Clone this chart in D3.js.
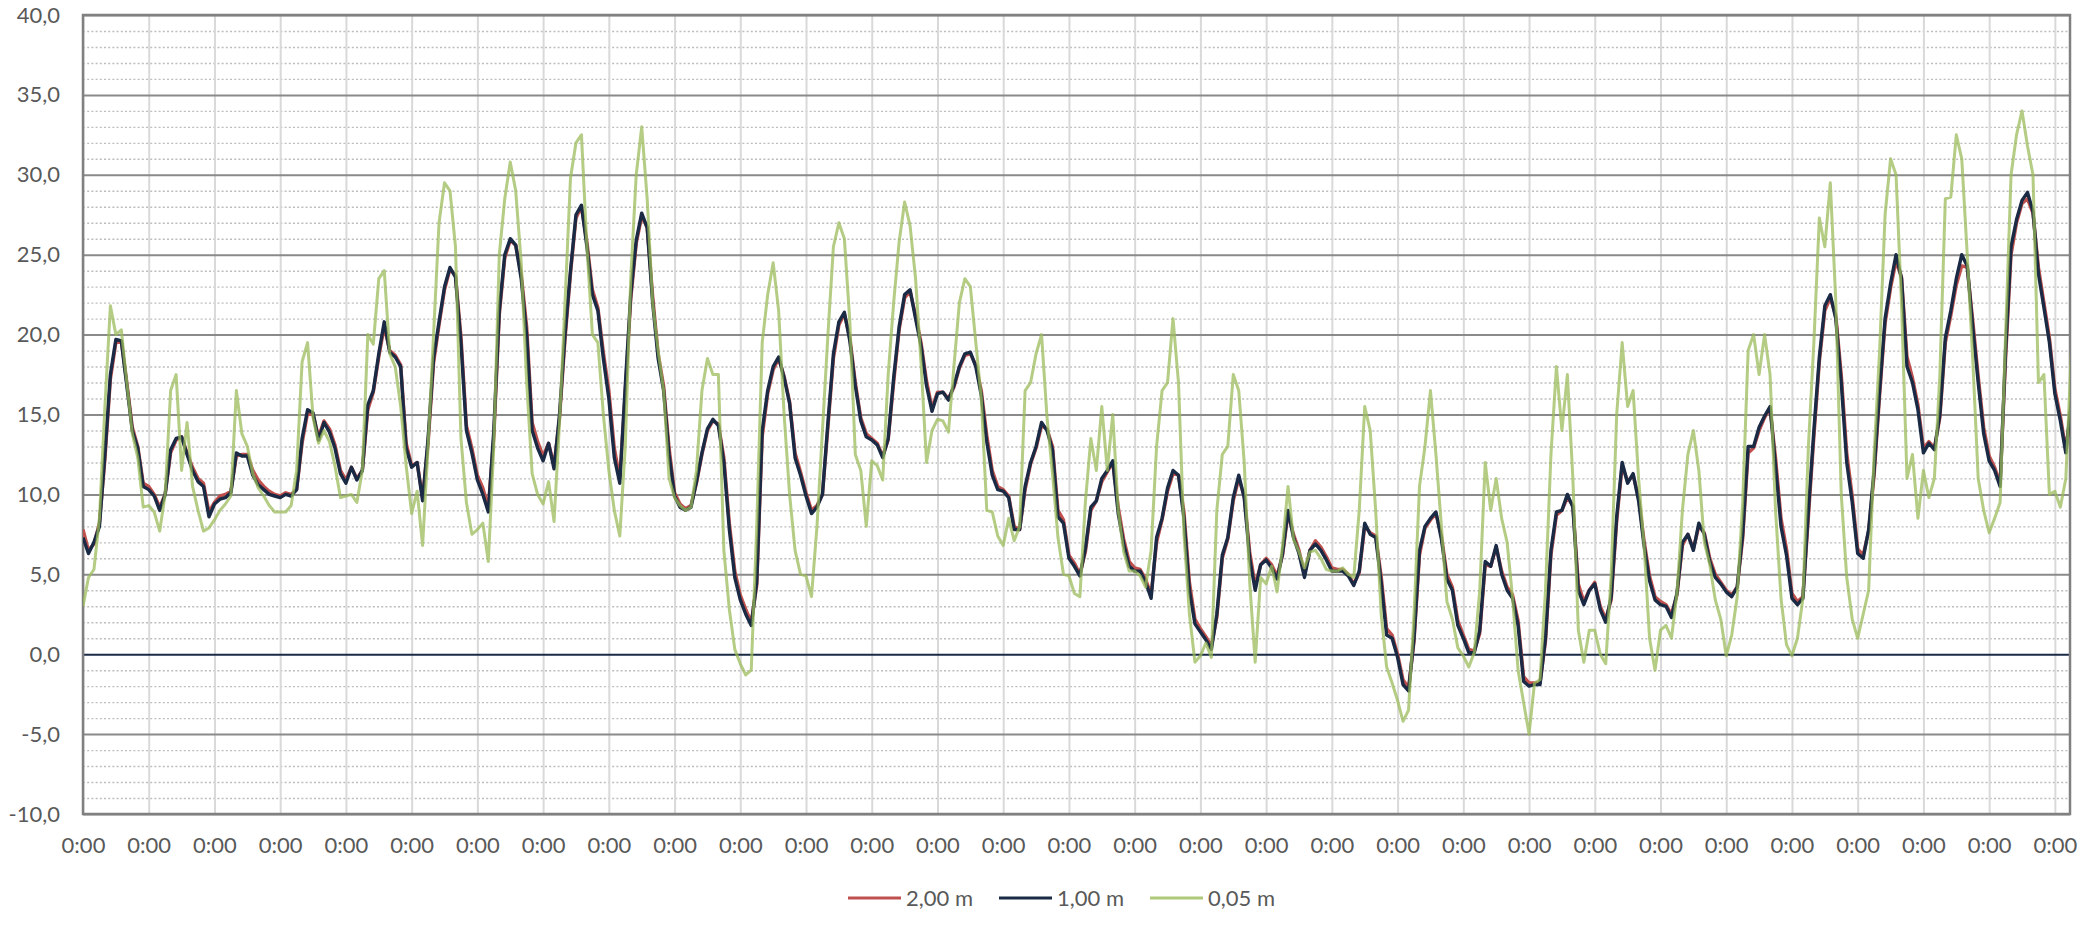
<!DOCTYPE html>
<html>
<head>
<meta charset="utf-8">
<script src="https://cdn.jsdelivr.net/npm/d3@7"></script>
<style>
	body { margin: 0; background: #fff; }
	svg { display: block; font-family: Lato, "Noto Sans", sans-serif; }
</style>
</head>
<body>
<svg width="2100" height="934"></svg>
<script>
// one reading every 2 hours, one row per day
const stepHours = 2
const seriesNames = ["2,00 m", "1,00 m", "0,05 m"]
const seriesColors = ["#c0504d", "#1a2a44", "#9bbb59"]

const temp200 = [
	7.8, 6.5, 6.9, 8.2, 12.2, 17.2, 19.5, 19.6, 17.0, 14.2, 13.0, 10.7,
	10.5, 10.0, 9.2, 10.0, 12.6, 13.4, 13.6, 12.6, 11.7, 11.0, 10.7, 8.9,
	9.5, 9.9, 10.0, 10.2, 12.4, 12.5, 12.5, 11.5, 10.9, 10.5, 10.2, 10.0,
	9.9, 10.1, 10.0, 10.3, 13.2, 15.1, 15.0, 13.6, 14.6, 14.1, 13.1, 11.5,
	10.9, 11.7, 11.0, 11.5, 15.3, 16.4, 18.6, 20.5, 19.0, 18.7, 18.1, 13.2,
	11.8, 12.0, 9.8, 13.2, 18.2, 20.6, 22.8, 24.1, 23.7, 19.9, 14.3, 12.9,
	11.2, 10.4, 9.2, 13.6, 21.2, 24.8, 25.9, 25.6, 23.8, 20.5, 14.5, 13.3,
	12.4, 13.2, 11.8, 14.8, 19.7, 23.8, 27.3, 28.0, 25.8, 22.8, 21.7, 18.9,
	16.5, 12.9, 11.0, 16.4, 22.2, 25.7, 27.4, 26.7, 22.4, 18.8, 16.8, 12.9,
	10.1, 9.4, 9.1, 9.3, 10.7, 12.5, 14.0, 14.6, 14.4, 12.3, 8.2, 5.2,
	3.7, 2.8, 2.0, 4.3, 13.6, 16.3, 17.8, 18.5, 17.4, 15.8, 12.6, 11.4,
	10.1, 9.0, 9.3, 10.0, 14.2, 18.5, 20.6, 21.3, 19.8, 17.0, 14.8, 13.8,
	13.5, 13.2, 12.4, 13.4, 17.0, 20.3, 22.3, 22.7, 21.2, 19.5, 17.1, 15.4,
	16.4, 16.4, 16.0, 16.7, 17.9, 18.7, 18.8, 18.1, 16.5, 13.7, 11.5, 10.5,
	10.3, 9.9, 8.0, 7.8, 10.3, 11.9, 12.9, 14.3, 14.1, 13.0, 9.0, 8.4,
	6.2, 5.7, 5.0, 6.4, 9.0, 9.6, 10.8, 11.4, 12.0, 9.2, 7.2, 5.8,
	5.4, 5.3, 4.7, 3.7, 7.0, 8.4, 10.2, 11.3, 11.2, 8.9, 4.5, 2.2,
	1.6, 1.1, 0.5, 2.3, 6.0, 7.2, 9.6, 11.0, 9.9, 6.4, 4.3, 5.6,
	6.0, 5.6, 4.9, 6.2, 8.8, 7.5, 6.5, 5.0, 6.5, 7.1, 6.7, 6.1,
	5.4, 5.3, 5.3, 5.0, 4.4, 5.1, 8.0, 7.6, 7.4, 4.9, 1.6, 1.2,
	0.0, -1.6, -2.1, 0.8, 6.2, 7.9, 8.4, 8.8, 7.4, 5.0, 4.2, 2.1,
	1.2, 0.3, 0.2, 1.3, 5.6, 5.5, 6.7, 5.2, 4.2, 3.7, 2.1, -1.4,
	-1.8, -1.8, -1.8, 0.8, 6.2, 8.7, 9.0, 9.8, 9.3, 4.4, 3.3, 4.0,
	4.5, 3.0, 2.2, 3.4, 8.3, 11.8, 10.8, 11.2, 9.8, 7.1, 4.9, 3.6,
	3.3, 3.1, 2.5, 3.7, 6.8, 7.5, 6.6, 8.0, 7.6, 6.0, 5.0, 4.5,
	4.0, 3.7, 4.2, 7.2, 12.6, 12.9, 14.0, 14.8, 15.4, 12.3, 8.5, 6.6,
	3.8, 3.3, 3.6, 8.6, 13.6, 18.3, 21.5, 22.3, 21.2, 17.5, 12.6, 9.9,
	6.6, 6.2, 7.7, 11.2, 16.2, 20.7, 22.9, 24.6, 23.6, 18.6, 17.3, 15.6,
	12.9, 13.3, 12.9, 14.8, 19.5, 21.2, 23.1, 24.3, 24.2, 20.9, 17.4, 14.2,
	12.4, 11.7, 10.7, 18.5, 25.0, 27.0, 28.2, 28.5, 27.6, 24.2, 22.0, 19.8,
	16.6, 14.9, 12.8, 15.5
]

const temp100 = [
	7.3, 6.3, 7.0, 8.0, 12.5, 17.5, 19.7, 19.6, 16.8, 14.0, 12.9, 10.5,
	10.3, 9.9, 9.0, 10.0, 12.8, 13.5, 13.6, 12.5, 11.5, 10.8, 10.5, 8.6,
	9.4, 9.7, 9.8, 10.1, 12.6, 12.4, 12.4, 11.2, 10.6, 10.3, 10.0, 9.9,
	9.8, 10.0, 9.9, 10.3, 13.5, 15.3, 15.1, 13.4, 14.5, 13.9, 12.9, 11.3,
	10.7, 11.7, 10.9, 11.5, 15.6, 16.5, 18.8, 20.8, 18.9, 18.6, 18.0, 12.9,
	11.7, 12.0, 9.6, 13.5, 18.5, 20.8, 23.0, 24.2, 23.6, 19.5, 14.0, 12.6,
	10.9, 10.0, 8.9, 14.0, 21.5, 25.0, 26.0, 25.6, 23.5, 20.0, 14.0, 12.9,
	12.1, 13.2, 11.6, 15.0, 20.0, 24.0, 27.5, 28.1, 25.5, 22.5, 21.5, 18.5,
	16.0, 12.3, 10.7, 16.8, 22.5, 25.9, 27.6, 26.7, 22.0, 18.5, 16.5, 12.5,
	9.9, 9.2, 9.0, 9.2, 10.8, 12.6, 14.1, 14.7, 14.3, 12.0, 7.8, 4.8,
	3.4, 2.5, 1.8, 4.5, 14.0, 16.5, 18.0, 18.6, 17.3, 15.7, 12.3, 11.2,
	9.9, 8.8, 9.2, 10.0, 14.5, 18.8, 20.8, 21.4, 19.6, 16.8, 14.6, 13.6,
	13.4, 13.1, 12.3, 13.5, 17.3, 20.5, 22.5, 22.8, 21.0, 19.3, 16.8, 15.2,
	16.3, 16.4, 15.9, 16.8, 18.0, 18.8, 18.9, 18.0, 16.2, 13.3, 11.2, 10.3,
	10.2, 9.8, 7.8, 7.8, 10.5, 12.0, 13.0, 14.5, 14.0, 12.8, 8.6, 8.2,
	6.0, 5.5, 4.9, 6.6, 9.2, 9.6, 11.0, 11.5, 12.1, 8.8, 6.9, 5.5,
	5.2, 5.2, 4.5, 3.5, 7.3, 8.5, 10.4, 11.5, 11.2, 8.5, 4.0, 1.9,
	1.4, 0.9, 0.3, 2.5, 6.2, 7.3, 9.8, 11.2, 9.8, 6.0, 4.0, 5.6,
	5.9, 5.4, 4.7, 6.3, 9.0, 7.3, 6.3, 4.8, 6.5, 6.9, 6.5, 5.9,
	5.2, 5.2, 5.2, 4.9, 4.3, 5.2, 8.2, 7.5, 7.3, 4.5, 1.2, 1.0,
	-0.2, -1.9, -2.3, 1.0, 6.5, 8.0, 8.5, 8.9, 7.2, 4.7, 4.0, 1.8,
	1.0, 0.1, 0.1, 1.5, 5.8, 5.5, 6.8, 5.0, 4.0, 3.5, 1.8, -1.7,
	-2.0, -1.9, -1.9, 1.0, 6.5, 8.9, 9.0, 10.0, 9.2, 4.0, 3.1, 4.0,
	4.4, 2.8, 2.0, 3.6, 8.6, 12.0, 10.7, 11.3, 9.6, 6.8, 4.6, 3.4,
	3.1, 3.0, 2.3, 3.8, 7.0, 7.5, 6.5, 8.2, 7.5, 5.8, 4.8, 4.4,
	3.9, 3.6, 4.2, 7.5, 13.0, 13.0, 14.2, 14.9, 15.5, 11.8, 8.0, 6.2,
	3.5, 3.1, 3.5, 9.0, 14.0, 18.6, 21.8, 22.5, 21.0, 17.0, 12.0, 9.5,
	6.3, 6.0, 7.8, 11.5, 16.5, 21.0, 23.2, 25.0, 23.5, 18.0, 17.0, 15.3,
	12.6, 13.2, 12.8, 15.0, 19.8, 21.5, 23.5, 25.0, 24.3, 20.5, 17.0, 13.8,
	12.1, 11.5, 10.5, 19.0, 25.5, 27.2, 28.4, 28.9, 27.7, 23.8, 21.7, 19.5,
	16.3, 14.6, 12.6, 15.8
]

const temp005 = [
	3.0, 4.8, 5.3, 8.5, 15.5, 21.8, 20.0, 20.3, 17.0, 13.8, 12.3, 9.2,
	9.3, 8.9, 7.7, 10.0, 16.5, 17.5, 11.5, 14.5, 10.5, 9.0, 7.7, 7.9,
	8.4, 9.0, 9.4, 9.9, 16.5, 13.8, 13.0, 11.3, 10.4, 9.9, 9.3, 8.9,
	8.9, 8.9, 9.3, 11.5, 18.3, 19.5, 14.8, 13.2, 14.0, 13.3, 11.8, 9.8,
	9.9, 10.0, 9.5, 11.5, 20.0, 19.4, 23.5, 24.0, 18.8, 18.0, 15.5, 11.8,
	8.8, 10.2, 6.8, 13.0, 20.0, 27.0, 29.5, 29.0, 25.5, 13.5, 9.5, 7.5,
	7.8, 8.2, 5.8, 13.0, 25.0, 28.5, 30.8, 29.0, 24.5, 17.0, 11.3, 10.0,
	9.4, 10.8, 8.3, 14.5, 22.0, 29.8, 32.0, 32.5, 25.5, 20.0, 19.5, 15.0,
	11.5, 9.0, 7.4, 13.0, 23.5, 30.0, 33.0, 28.5, 22.0, 19.0, 16.5, 11.0,
	9.8, 9.3, 9.0, 9.2, 11.5, 16.5, 18.5, 17.5, 17.5, 6.5, 2.8, 0.3,
	-0.6, -1.3, -1.0, 8.0, 19.5, 22.5, 24.5, 21.5, 15.0, 10.0, 6.5, 5.0,
	4.9, 3.6, 8.0, 14.0, 20.0, 25.5, 27.0, 26.0, 20.8, 12.5, 11.5, 8.0,
	12.1, 11.8, 10.9, 17.5, 22.0, 25.8, 28.3, 26.8, 23.5, 18.2, 12.0, 14.0,
	14.7, 14.6, 13.9, 18.0, 22.0, 23.5, 23.0, 19.5, 16.0, 9.0, 8.9, 7.4,
	6.8, 8.5, 7.1, 8.0, 16.5, 17.0, 18.8, 20.0, 14.8, 11.3, 7.3, 5.0,
	4.9, 3.8, 3.6, 9.5, 13.5, 11.5, 15.5, 11.5, 15.0, 9.0, 6.4, 5.2,
	5.2, 4.9, 4.2, 6.5, 13.0, 16.5, 17.0, 21.0, 17.0, 7.5, 2.5, -0.5,
	-0.1, 0.7, -0.2, 9.0, 12.5, 13.0, 17.5, 16.5, 12.0, 4.5, -0.5, 4.8,
	4.4, 5.5, 3.9, 6.8, 10.5, 7.2, 6.4, 5.4, 6.4, 6.5, 6.0, 5.3,
	5.2, 5.2, 5.4, 5.0, 4.8, 9.0, 15.5, 14.0, 9.0, 2.5, -0.8, -1.8,
	-2.9, -4.2, -3.5, 2.5, 10.5, 13.0, 16.5, 12.5, 8.0, 3.3, 2.2, 0.4,
	-0.1, -0.8, 0.1, 4.0, 12.0, 9.0, 11.0, 8.5, 7.0, 3.5, -1.0, -3.0,
	-5.0, -1.8, -1.6, 4.0, 12.5, 18.0, 14.0, 17.5, 11.0, 1.5, -0.5, 1.5,
	1.5, 0.0, -0.6, 5.0, 15.0, 19.5, 15.5, 16.5, 11.0, 6.8, 1.0, -1.0,
	1.5, 1.8, 1.0, 3.8, 9.0, 12.5, 14.0, 11.5, 7.0, 5.6, 3.4, 2.2,
	-0.1, 1.2, 3.6, 9.5, 19.0, 20.0, 17.5, 20.0, 17.5, 9.0, 3.5, 0.6,
	-0.1, 1.0, 3.5, 13.0, 19.5, 27.3, 25.5, 29.5, 22.1, 10.0, 4.8, 2.2,
	1.0, 2.5, 4.0, 12.5, 19.0, 27.5, 31.0, 30.0, 22.0, 11.0, 12.5, 8.5,
	11.5, 9.8, 11.0, 17.5, 28.5, 28.6, 32.5, 31.0, 25.0, 18.5, 11.0, 9.0,
	7.6, 8.5, 9.5, 20.0, 30.0, 32.5, 34.0, 31.8, 30.0, 17.0, 17.5, 10.0,
	10.2, 9.2, 11.0, 18.9
]

const dayTicks = [0, 1, 2, 3, 4, 5, 6, 7, 8, 9, 10, 11, 12, 13, 14, 15,
	16, 17, 18, 19, 20, 21, 22, 23, 24, 25, 26, 27, 28, 29, 30]
const dayLabel = "0:00"
const yMajor = [-10, -5, 0, 5, 10, 15, 20, 25, 30, 35, 40]
const lastDay = 30.23

const margin = { top: 15, right: 30, bottom: 120, left: 83 }
const svg = d3.select("svg")
const graphWidth = svg.attr("width") - margin.left - margin.right
const graphHeight = svg.attr("height") - margin.top - margin.bottom

const graph = svg
	.append("g")
	.attr("transform", `translate(${margin.left}, ${margin.top})`)

const x = d3.scaleLinear().domain([0, lastDay]).range([0, graphWidth])
const y = d3.scaleLinear().domain([-10, 40]).range([graphHeight, 0])

const fmt = (d) => d3.format(".1f")(d).replace(".", ",").replace("−", "-")

// minor gridlines, dotted
const yMinor = d3.range(-10, 40, 1).filter((d) => d % 5 !== 0)
graph
	.append("g")
	.call(d3.axisLeft(y).tickValues(yMinor).tickSize(-graphWidth).tickFormat(""))
	.call((g) => g.select(".domain").remove())
	.selectAll("line")
	.attr("stroke", "#bdbdbd")
	.attr("stroke-width", 1.4)
	.attr("stroke-dasharray", "2,2.2")

// vertical day lines
graph
	.append("g")
	.attr("transform", `translate(0, ${graphHeight})`)
	.call(d3.axisBottom(x).tickValues(dayTicks).tickSize(-graphHeight).tickFormat(""))
	.call((g) => g.select(".domain").remove())
	.selectAll("line")
	.attr("stroke", "#d9d9d9")
	.attr("stroke-width", 2)

// major gridlines
graph
	.append("g")
	.call(d3.axisLeft(y).tickValues(yMajor).tickSize(-graphWidth).tickFormat(""))
	.call((g) => g.select(".domain").remove())
	.selectAll("line")
	.attr("stroke", (d) => (d === 0 ? "#1a2a44" : "#8a8a8a"))
	.attr("stroke-width", 2)

// plot border
graph
	.append("rect")
	.attr("width", graphWidth)
	.attr("height", graphHeight)
	.attr("fill", "none")
	.attr("stroke", "#808080")
	.attr("stroke-width", 2.5)

// tick labels
const yAxisGroup = graph
	.append("g")
	.call(d3.axisLeft(y).tickValues(yMajor).tickSize(0).tickPadding(23).tickFormat(fmt))
yAxisGroup.select(".domain").remove()

const xAxisGroup = graph
	.append("g")
	.attr("transform", `translate(0, ${graphHeight})`)
	.call(d3.axisBottom(x).tickValues(dayTicks).tickSize(0).tickPadding(23).tickFormat(() => dayLabel))
xAxisGroup.select(".domain").remove()

svg.selectAll(".tick text")
	.attr("font-family", "Lato, 'Noto Sans', sans-serif")
	.attr("font-size", 22)
	.attr("fill", "#595959")

// series
graph
	.append("clipPath")
	.attr("id", "plot-clip")
	.append("rect")
	.attr("width", graphWidth)
	.attr("height", graphHeight)

const line = d3
	.line()
	.x((d, i) => x((i * stepHours) / 24))
	.y((d) => y(d))

const allSeries = [temp200, temp100, temp005]
const widths = [3.4, 3.4, 3]
const opacities = [1, 1, 0.75]

allSeries.forEach((values, k) => {
	graph
		.append("path")
		.datum(values)
		.attr("clip-path", "url(#plot-clip)")
		.attr("fill", "none")
		.attr("stroke", seriesColors[k])
		.attr("stroke-width", widths[k])
		.attr("stroke-opacity", opacities[k])
		.attr("stroke-linejoin", "round")
		.attr("d", line)
})

// legend
const legendX = [848, 999, 1150]
const legend = svg
	.selectAll(".legend")
	.data(seriesNames)
	.enter()
	.append("g")
	.attr("transform", (d, i) => `translate(${legendX[i]}, 898)`)

legend
	.append("line")
	.attr("x2", 53)
	.attr("stroke", (d, i) => seriesColors[i])
	.attr("stroke-opacity", (d, i) => (i === 2 ? 0.8 : 1))
	.attr("stroke-width", 3)

legend
	.append("text")
	.attr("x", 58)
	.attr("dy", "0.35em")
	.attr("font-size", 22)
	.attr("fill", "#595959")
	.text((d) => d)
</script>
</body>
</html>
